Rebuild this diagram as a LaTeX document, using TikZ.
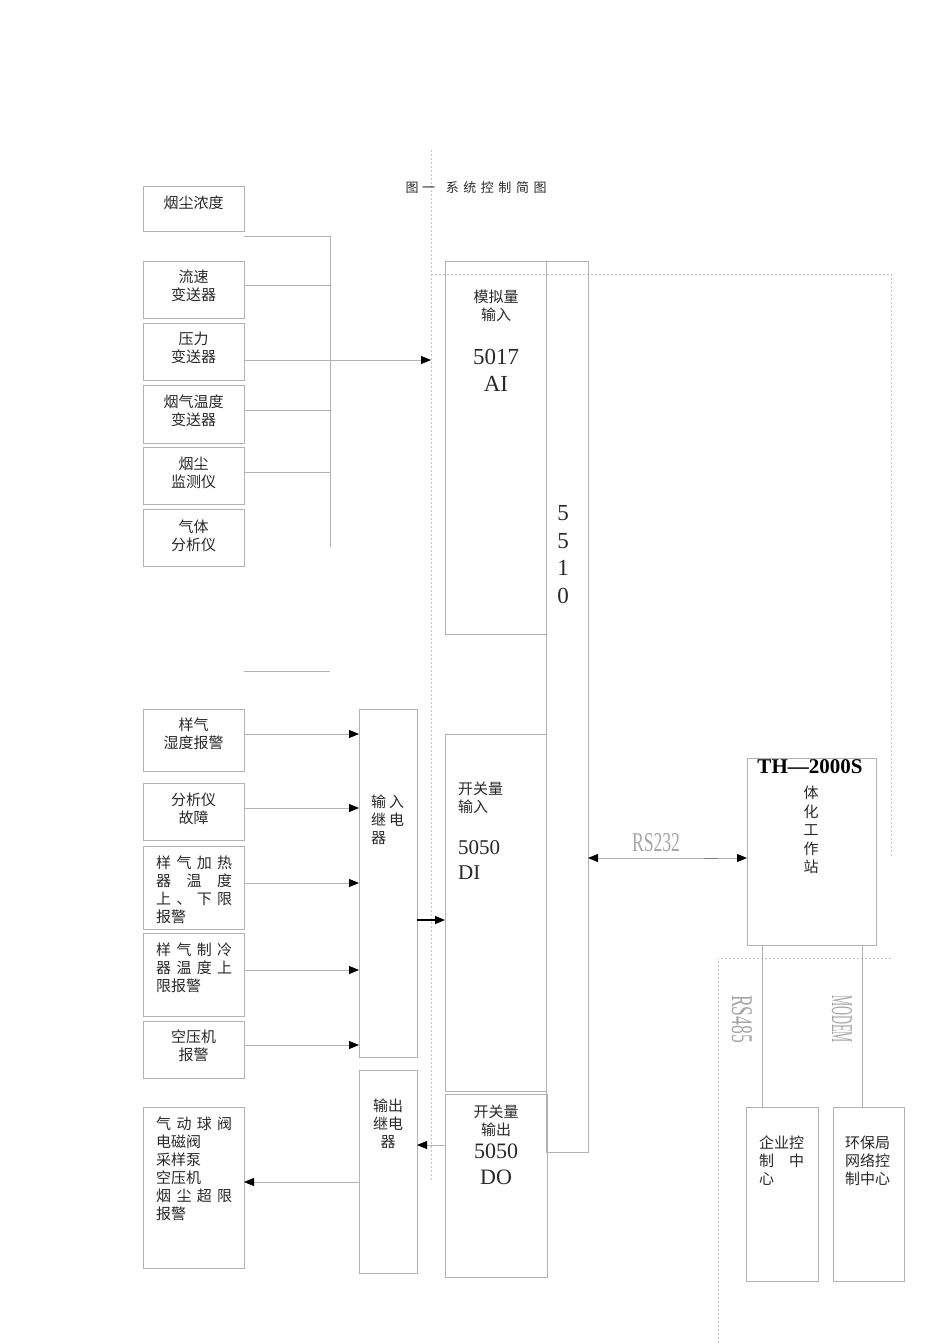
\documentclass[tikz,border=0pt]{standalone}
\usepackage{fontspec}
\usepackage{graphicx}
\setmainfont{Liberation Serif}
\newfontfamily\cjk{Noto Sans CJK SC}
\usetikzlibrary{arrows.meta}
\definecolor{lg}{RGB}{178,178,178}
\definecolor{dg}{RGB}{195,195,195}
\definecolor{tx}{RGB}{40,40,40}
\definecolor{ol}{RGB}{165,165,165}
\newcommand\jline[2][76pt]{\makebox[#1][s]{#2}}
\newcommand\bx[5]{\node[box, minimum width=#4pt, minimum height=#5pt] (#1) at (#2,#3) {};}
\begin{document}
\begin{tikzpicture}[x=1pt,y=-1pt,
  box/.style={draw=lg, line width=0.8pt, anchor=north west, inner sep=0pt, outer sep=0pt},
  ln/.style={draw=lg, line width=0.8pt},
  arr/.style={ln, -{Triangle[length=10pt,width=8pt,color=black]}},
  darr/.style={ln, {Triangle[length=10pt,width=8pt,color=black]}-{Triangle[length=10pt,width=8pt,color=black]}},
  barr/.style={draw=black, line width=1.4pt, -{Triangle[length=10pt,width=8pt,color=black]}},
  dsh/.style={draw=dg, line width=0.6pt, dash pattern=on 2pt off 2pt},
  cj/.style={font=\cjk\fontsize{15}{18}\selectfont, text=tx, inner sep=0pt, align=center},
  cjl/.style={cj, align=left, anchor=west},
  num/.style={font=\fontsize{23}{23}\selectfont, text=tx, inner sep=0pt},
  olt/.style={text=ol, inner sep=0pt}
]
\useasboundingbox (0,0) rectangle (950,1344);

% dashed frame lines
\draw[dsh] (431,150) -- (431,1182);
\draw[dsh] (431,274) -- (891,274) -- (891,858);
\draw[dsh] (891,958) -- (718,958) -- (718,1344);

% upper left sensor boxes
\bx{b1}{143}{186}{101}{45}
\bx{b2}{143}{261}{101}{57}
\bx{b3}{143}{323}{101}{57}
\bx{b4}{143}{385}{101}{58}
\bx{b5}{143}{447}{101}{57}
\bx{b6}{143}{509}{101}{57}
% modules
\bx{ai}{445}{261}{101}{373}
\bx{cpu}{546}{261}{42}{891}
\bx{di}{445}{734}{101}{357}
\bx{do}{445}{1094}{102}{183}
\bx{ri}{359}{709}{58}{348}
\bx{ro}{359}{1070}{58}{203}
% lower left boxes
\bx{c1}{143}{709}{101}{62}
\bx{c2}{143}{783}{101}{57}
\bx{c3}{143}{846}{101}{83}
\bx{c4}{143}{933}{101}{83}
\bx{c5}{143}{1021}{101}{57}
\bx{c6}{143}{1107}{101}{161}
% right side
\bx{th}{747}{758}{129}{187}
\bx{e1}{746}{1107}{72}{174}
\bx{e2}{833}{1107}{71}{174}

% bus of analog inputs
\coordinate (fs) at (244,236);
\coordinate (bt) at (330,236);
\coordinate (bb) at (330,547);
\coordinate (ait) at (431,360);
\coordinate (lone1) at (244,671);
\coordinate (lone2) at (330,671);
\draw[ln] (fs) -- (bt) -- (bb);
\draw[ln] (b2.east |- 0,285) -- (bt |- 0,285);
\draw[ln] (b4.east |- 0,410) -- (bt |- 0,410);
\draw[ln] (b5.east |- 0,472) -- (bt |- 0,472);
\draw[arr] (b3.east |- 0,360) -- (ait);
\draw[ln] (lone1) -- (lone2);

% digital inputs
\draw[arr] (c1.east |- 0,734) -- (ri.west |- 0,734);
\draw[arr] (c2.east |- 0,808) -- (ri.west |- 0,808);
\draw[arr] (c3.east |- 0,883) -- (ri.west |- 0,883);
\draw[arr] (c4.east |- 0,970) -- (ri.west |- 0,970);
\draw[arr] (c5.east |- 0,1045) -- (ri.west |- 0,1045);
\draw[barr] (ri.east |- 0,920) -- (di.west |- 0,920);
% outputs
\draw[arr] (do.west |- 0,1145) -- (ro.east |- 0,1145);
\draw[arr] (ro.west |- 0,1182) -- (c6.east |- 0,1182);
% communication
\draw[darr] (cpu.east |- 0,858) -- (th.west |- 0,858);
\draw[draw=gray, line width=0.8pt] (704,858) -- (718,858);
\draw[ln] (th.south -| 762,0) -- (e1.north -| 762,0);
\draw[ln] (th.south -| 862,0) -- (e2.north -| 862,0);

% title
\node[font=\cjk\fontsize{13}{13}\selectfont, text=tx, inner sep=0pt] (title) at (476,188)
  {图\hspace{3.5pt}一\hspace{11pt}系\hspace{4.5pt}统\hspace{4.5pt}控\hspace{4.5pt}制\hspace{4.5pt}简\hspace{4.5pt}图};

% texts upper left
\node[cj] (t1) at (193.5,203) {烟尘浓度};
\node[cj] (t2) at (193.5,286) {流速\\变送器};
\node[cj] (t3) at (193.5,348) {压力\\变送器};
\node[cj] (t4) at (193.5,410.5) {烟气温度\\变送器};
\node[cj] (t5) at (193.5,472.5) {烟尘\\监测仪};
\node[cj] (t6) at (193.5,536) {气体\\分析仪};

% module texts
\node[cj] (tai) at (496,305.5) {模拟量\\输入};
\node[num] (tai2) at (496,357) {5017};
\node[num] (tai3) at (496,384) {AI};
\node[num, align=center, font=\fontsize{23}{27.5}\selectfont] (tcpu) at (563,554.5) {5\\5\\1\\0};
\node[cjl] (tdi) at (458,797.5) {开关量\\输入};
\node[num, anchor=west, font=\fontsize{21}{21}\selectfont] (tdi2) at (458,848) {5050};
\node[num, anchor=west, font=\fontsize{21}{21}\selectfont] (tdi3) at (458,873) {DI};
\node[cj] (tdo) at (496,1121) {开关量\\输出};
\node[num, font=\fontsize{22}{22}\selectfont] (tdo2) at (496,1151) {5050};
\node[num, font=\fontsize{22}{22}\selectfont] (tdo3) at (496,1177) {DO};
\node[cjl] (tri) at (371,820) {\jline[33pt]{输\hfill 入}\\\jline[33pt]{继\hfill 电}\\器};
\node[cj] (tro) at (388,1124) {输出\\继电\\器};

% lower left texts
\node[cj] (u1) at (193.5,734) {样气\\湿度报警};
\node[cj] (u2) at (193.5,809) {分析仪\\故障};
\node[cjl] (u3) at (156,890) {\jline{样\hfill 气\hfill 加\hfill 热}\\\jline{器\hfill 温\hfill 度}\\\jline{上\hfill 、\hfill 下\hfill 限}\\报警};
\node[cjl] (u4) at (156,967.5) {\jline{样\hfill 气\hfill 制\hfill 冷}\\\jline{器\hfill 温\hfill 度\hfill 上}\\限报警};
\node[cj] (u5) at (193.5,1046) {空压机\\报警};
\node[cjl] (u6) at (156,1168.5) {\jline{气\hfill 动\hfill 球\hfill 阀}\\电磁阀\\采样泵\\空压机\\\jline{烟\hfill 尘\hfill 超\hfill 限}\\报警};

% right side texts
\node[font=\bfseries\fontsize{21}{21}\selectfont, inner sep=0pt] (tth) at (810,767) {TH—2000S};
\node[cj, font=\cjk\fontsize{15}{18.5}\selectfont] (tth2) at (811,830) {体\\化\\工\\作\\站};
\node[olt] (rs232) at (656,843) {\resizebox{48pt}{18pt}{RS232}};
\node[olt, rotate=-90] (rs485) at (742,1019) {\resizebox{48pt}{20pt}{RS485}};
\node[olt, rotate=-90] (modem) at (842,1019) {\resizebox{48pt}{20pt}{MODEM}};
\node[cjl] (te1) at (759,1161) {企业控\\\jline[45pt]{制\hfill 中}\\心};
\node[cjl] (te2) at (845,1161) {环保局\\网络控\\制中心};
\end{tikzpicture}
\end{document}
